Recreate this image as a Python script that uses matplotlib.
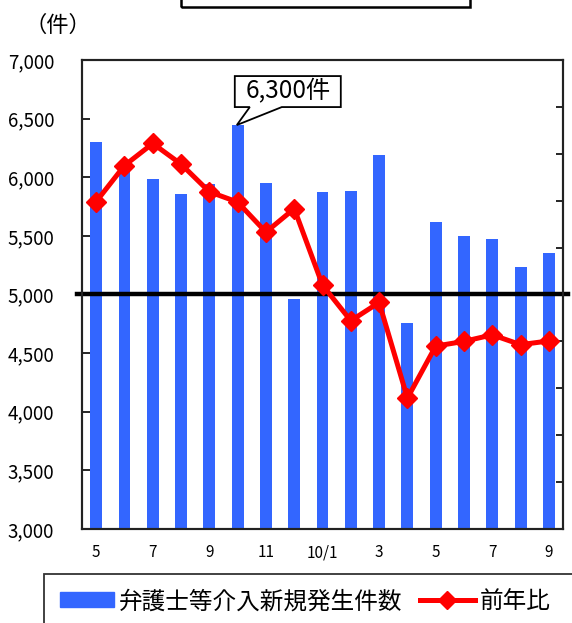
import matplotlib
matplotlib.use("Agg")
import matplotlib.pyplot as plt
import matplotlib.transforms as mtransforms
from matplotlib.patches import Rectangle, Polygon, Patch
from matplotlib.lines import Line2D

plt.rcParams["font.family"] = ["Noto Sans CJK JP", "DejaVu Sans"]

# 月ラベル（2年分、10/1 は翌年1月）
months = ["5", "6", "7", "8", "9", "10", "11", "12", "10/1",
          "2", "3", "4", "5", "6", "7", "8", "9"]
# 弁護士等介入新規発生件数（件）
cases = [6300, 6080, 5985, 5860, 5945, 6445, 5950, 4960, 5875,
         5885, 6190, 4755, 5620, 5500, 5475, 5235, 5355]
# 前年比（%）
yoy = [119.8, 127.5, 132.2, 127.8, 121.9, 119.7, 113.3, 118.3, 102.0,
       94.4, 98.3, 77.9, 89.0, 90.0, 91.4, 89.3, 90.1]

bar_color = "#3366FF"
line_color = "#FF0000"

fig = plt.figure(figsize=(5.72, 6.23), dpi=100)
ax = fig.add_axes([0.1434, 0.1509, 0.8409, 0.7528])

x = list(range(len(months)))
ax.bar(x, [c - 3000 for c in cases], bottom=3000, width=0.42,
       color=bar_color, zorder=2)
ax.set_xlim(-0.5, len(months) - 0.5)
ax.set_ylim(3000, 7000)
ax.set_yticks(range(3000, 7001, 500))
ax.set_yticklabels([f"{v:,}" for v in range(3000, 7001, 500)], fontsize=13.5)
ax.tick_params(axis="y", direction="in", length=6, width=1.2, pad=20)
ax.set_xticks(x[::2])
ax.set_xticklabels(months[::2], fontsize=11)
ax.tick_params(axis="x", length=0, pad=11)
for s in ax.spines.values():
    s.set_linewidth(1.5)
    s.set_color("#222222")

ax2 = ax.twinx()
ax2.set_ylim(50, 150)
ax2.set_yticks(range(50, 151, 10))
ax2.set_yticklabels([])
ax2.tick_params(axis="y", direction="in", length=5, width=1.2)
ax2.axhline(100, xmin=-0.01, xmax=1.01, color="black", lw=3.2,
            clip_on=False, zorder=2)
ax2.plot(x, yoy, color=line_color, lw=3.6, marker="D", markersize=10,
         zorder=3)
for s in ax2.spines.values():
    s.set_linewidth(1.5)
    s.set_color("#222222")

# 吹き出し（先端を最大の棒の上端に置き、形はインチ単位で描く）
peak = cases.index(max(cases))
tip = mtransforms.ScaledTranslation(peak - 0.03, cases[peak], ax.transData)
bubble_tr = fig.dpi_scale_trans + tip
bubble = Polygon([(0, 0), (0.45, 0.18), (1.04, 0.18), (1.04, 0.49),
                  (-0.02, 0.49), (-0.02, 0.18), (0.13, 0.18)],
                 closed=True, fc="white", ec="black", lw=1.3,
                 transform=bubble_tr, clip_on=False, zorder=6)
ax.add_patch(bubble)
ax.text(0.51, 0.335, "6,300件", transform=bubble_tr, fontsize=17.5,
        ha="center", va="center", zorder=7)

# 単位
fig.text(0.101, 0.960, "（件）", fontsize=16, ha="center", va="center")

# 上部の枠（見切れ）
fig.patches.append(Rectangle((0.3164, 0.9888), 0.5053, 0.05, transform=fig.transFigure,
                             fill=False, ec="black", lw=1.8, clip_on=False))

# 凡例
fig.patches.append(Rectangle((0.077, -0.05), 1.0, 0.129, transform=fig.transFigure,
                             fill=False, ec="#333333", lw=1.3, clip_on=False))
handles = [Patch(color=bar_color),
           Line2D([], [], color=line_color, lw=3.6, marker="D", markersize=9)]
fig.legend(handles, ["弁護士等介入新規発生件数", "前年比"], ncol=2,
           loc="center left", bbox_to_anchor=(0.105, 0.034), frameon=False,
           fontsize=17, handlelength=2.3, handleheight=0.6, handletextpad=0.2,
           columnspacing=0.75, borderpad=0, borderaxespad=0)

fig.savefig("out.png", dpi=100)
